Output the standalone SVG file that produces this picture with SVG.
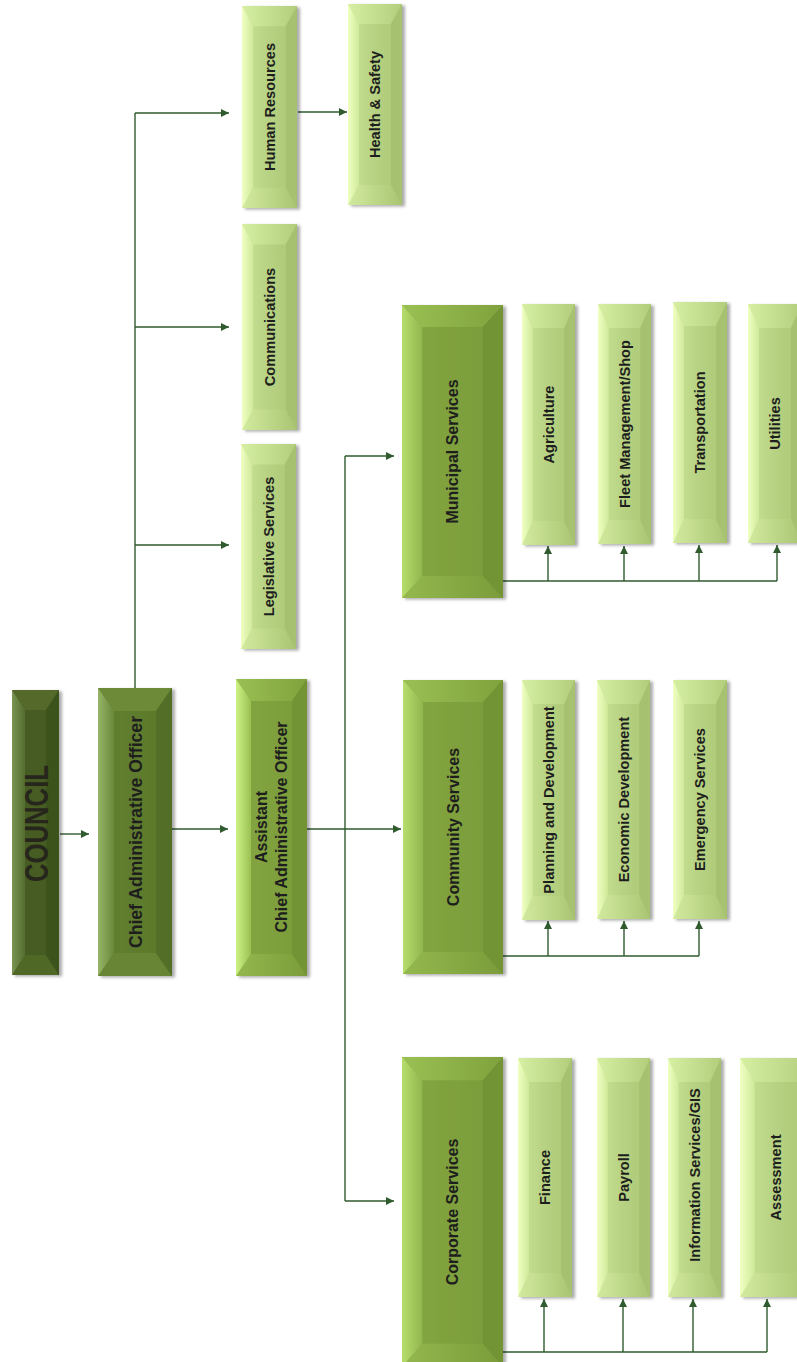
<svg xmlns="http://www.w3.org/2000/svg" xmlns:xlink="http://www.w3.org/1999/xlink" width="797" height="1362" viewBox="0 0 797 1362">
<style>
.t{font-family:"Liberation Sans",Arial,sans-serif;font-weight:bold;fill:#1e1e1e;text-anchor:middle}
.ts{font-size:14.6px}
.td{font-size:16px}
.con{fill:none;stroke:#2f5b2f;stroke-width:1.4}
.arr{marker-end:url(#ah)}
.box{filter:url(#sh)}
</style>
<defs>
<filter id="sh" x="-20%" y="-10%" width="150%" height="120%">
<feDropShadow dx="3" dy="1.5" stdDeviation="1.8" flood-color="#000" flood-opacity="0.33"/>
</filter>
<marker id="ah" viewBox="0 0 10 10" refX="10" refY="5" markerWidth="9" markerHeight="8" markerUnits="userSpaceOnUse" orient="auto">
<path d="M0,0 L10,5 L0,10 z" fill="#2f5b2f"/>
</marker>
<linearGradient id="sFace" x1="0" y1="0" x2="1" y2="0"><stop offset="0" stop-color="#cbe597"/><stop offset="0.45" stop-color="#b7d383"/><stop offset="1" stop-color="#abc775"/></linearGradient>
<linearGradient id="sLeft" x1="0" y1="0" x2="1" y2="0"><stop offset="0" stop-color="#f0ffc2"/><stop offset="1" stop-color="#cfe99a"/></linearGradient>
<linearGradient id="sTop" x1="0" y1="0" x2="1" y2="0"><stop offset="0" stop-color="#d6efa3"/><stop offset="1" stop-color="#b2ce7c"/></linearGradient>
<linearGradient id="sBot" x1="0" y1="0" x2="1" y2="0"><stop offset="0" stop-color="#d2ea9f"/><stop offset="1" stop-color="#a9c572"/></linearGradient>
<symbol id="bxS" viewBox="0 0 54 240" preserveAspectRatio="none">
<rect x="0" y="0" width="54" height="240" fill="url(#sFace)"/>
<polygon points="0,0 54,0 43,24 11,24" fill="url(#sTop)"/>
<polygon points="0,240 11,216 43,216 54,240" fill="url(#sBot)"/>
<polygon points="0,0 11,24 11,216 0,240" fill="url(#sLeft)"/>
<polygon points="54,0 54,240 43,216 43,24" fill="#a6c270"/>
</symbol>
<linearGradient id="dFace" x1="0" y1="0" x2="1" y2="0"><stop offset="0" stop-color="#85a742"/><stop offset="1" stop-color="#799a38"/></linearGradient>
<linearGradient id="dLeft" x1="0" y1="0" x2="1" y2="0"><stop offset="0" stop-color="#b6dd6c"/><stop offset="1" stop-color="#91b74e"/></linearGradient>
<linearGradient id="dTop" x1="0" y1="0" x2="1" y2="0"><stop offset="0" stop-color="#9ac054"/><stop offset="1" stop-color="#80a23d"/></linearGradient>
<linearGradient id="dBot" x1="0" y1="0" x2="1" y2="0"><stop offset="0" stop-color="#94b84f"/><stop offset="1" stop-color="#7b9c39"/></linearGradient>
<symbol id="bxD" viewBox="0 0 100 294" preserveAspectRatio="none">
<rect x="0" y="0" width="100" height="294" fill="url(#dFace)"/>
<polygon points="0,0 100,0 80,22 20,22" fill="url(#dTop)"/>
<polygon points="0,294 20,272 80,272 100,294" fill="url(#dBot)"/>
<polygon points="0,0 20,22 20,272 0,294" fill="url(#dLeft)"/>
<polygon points="100,0 100,294 80,272 80,22" fill="#739436"/>
</symbol>
<linearGradient id="aLeft" x1="0" y1="0" x2="1" y2="0"><stop offset="0" stop-color="#cdf283"/><stop offset="1" stop-color="#9ac054"/></linearGradient>
<symbol id="bxA" viewBox="0 0 71 297" preserveAspectRatio="none">
<rect x="0" y="0" width="71" height="297" fill="url(#dFace)"/>
<polygon points="0,0 71,0 56,22 15,22" fill="url(#dTop)"/>
<polygon points="0,297 15,275 56,275 71,297" fill="url(#dBot)"/>
<polygon points="0,0 15,22 15,275 0,297" fill="url(#aLeft)"/>
<polygon points="71,0 71,297 56,275 56,22" fill="#739436"/>
</symbol>
<linearGradient id="cFace" x1="0" y1="0" x2="1" y2="0"><stop offset="0" stop-color="#63812f"/><stop offset="1" stop-color="#5a772b"/></linearGradient>
<linearGradient id="cLeft" x1="0" y1="0" x2="1" y2="0"><stop offset="0" stop-color="#97b567"/><stop offset="1" stop-color="#6a883a"/></linearGradient>
<symbol id="bxC" viewBox="0 0 74 288" preserveAspectRatio="none">
<rect x="0" y="0" width="74" height="288" fill="url(#cFace)"/>
<polygon points="0,0 74,0 58,23 16,23" fill="#6c8a38"/>
<polygon points="0,288 16,265 58,265 74,288" fill="#678434"/>
<polygon points="0,0 16,23 16,265 0,288" fill="url(#cLeft)"/>
<polygon points="74,0 74,288 58,265 58,23" fill="#536e27"/>
</symbol>
<linearGradient id="kLeft" x1="0" y1="0" x2="1" y2="0"><stop offset="0" stop-color="#7a9453"/><stop offset="1" stop-color="#546d2f"/></linearGradient>
<symbol id="bxK" viewBox="0 0 47 285" preserveAspectRatio="none">
<rect x="0" y="0" width="47" height="285" fill="#465c22"/>
<polygon points="0,0 47,0 34,20 13,20" fill="#546b2c"/>
<polygon points="0,285 13,265 34,265 47,285" fill="#506728"/>
<polygon points="0,0 13,20 13,265 0,285" fill="url(#kLeft)"/>
<polygon points="47,0 47,285 34,265 34,20" fill="#3d521d"/>
</symbol>
</defs>
<rect width="797" height="1362" fill="#ffffff"/>

<g id="connectors">
<path class="con arr" d="M60,834 H89"/>
<path class="con arr" d="M172,829 H228"/>
<path class="con" d="M135,688 V113"/>
<path class="con arr" d="M135,113 H229"/>
<path class="con arr" d="M135,327 H229"/>
<path class="con arr" d="M135,545 H229"/>
<path class="con arr" d="M298,112 H347"/>
<path class="con" d="M307,829 H345"/>
<path class="con" d="M345,456 V1201"/>
<path class="con arr" d="M345,456 H394"/>
<path class="con arr" d="M345,829 H401"/>
<path class="con arr" d="M345,1201 H394"/>
<path class="con" d="M503,581 H777"/>
<path class="con arr" d="M548,581 V546"/>
<path class="con arr" d="M624,581 V546"/>
<path class="con arr" d="M699,581 V545"/>
<path class="con arr" d="M777,581 V545"/>
<path class="con" d="M503,956 H699"/>
<path class="con arr" d="M548,956 V921"/>
<path class="con arr" d="M624,956 V921"/>
<path class="con arr" d="M699,956 V921"/>
<path class="con" d="M503,1352 H767"/>
<path class="con arr" d="M544,1352 V1299"/>
<path class="con arr" d="M623,1352 V1299"/>
<path class="con arr" d="M693,1352 V1299"/>
<path class="con arr" d="M767,1352 V1299"/>
</g>

<g id="council"><use class="box" href="#bxK" x="12" y="690" width="47" height="285"/>
<text class="t" style="font-size:33px;fill:#26261c" textLength="117" lengthAdjust="spacingAndGlyphs" transform="translate(35.5,823.5) rotate(-90)" y="12.5">COUNCIL</text></g>

<g id="cao"><use class="box" href="#bxC" x="98" y="688" width="74" height="288"/>
<text class="t" style="font-size:18px" textLength="232" lengthAdjust="spacingAndGlyphs" transform="translate(135,832) rotate(-90)" y="6.5">Chief Administrative Officer</text></g>

<g id="acao"><use class="box" href="#bxA" x="236" y="679" width="71" height="297"/>
<text class="t td" transform="translate(271.5,827) rotate(-90)"><tspan x="0" y="-4.5">Assistant</tspan><tspan x="0" y="15">Chief Administrative Officer</tspan></text></g>

<g id="hr"><use class="box" href="#bxS" x="242" y="6" width="55" height="202"/>
<text class="t ts" transform="translate(269.5,107) rotate(-90)" y="5.2">Human Resources</text></g>
<g id="hs"><use class="box" href="#bxS" x="348" y="4" width="54" height="201"/>
<text class="t ts" transform="translate(375,104.5) rotate(-90)" y="5.2">Health &amp; Safety</text></g>
<g id="comm"><use class="box" href="#bxS" x="242" y="224" width="55" height="206"/>
<text class="t ts" transform="translate(269.5,327) rotate(-90)" y="5.2">Communications</text></g>
<g id="legis"><use class="box" href="#bxS" x="241" y="444" width="55" height="205"/>
<text class="t ts" transform="translate(268.5,546.5) rotate(-90)" y="5.2">Legislative Services</text></g>

<g id="municipal"><use class="box" href="#bxD" x="402" y="305" width="101" height="293"/>
<text class="t td" transform="translate(452.5,451.5) rotate(-90)" y="5.7">Municipal Services</text></g>
<g id="agri"><use class="box" href="#bxS" x="522" y="304" width="53" height="241"/>
<text class="t ts" transform="translate(548.5,424.5) rotate(-90)" y="5.2">Agriculture</text></g>
<g id="fleet"><use class="box" href="#bxS" x="598" y="304" width="53" height="240"/>
<text class="t ts" transform="translate(624.5,424) rotate(-90)" y="5.2">Fleet Management/Shop</text></g>
<g id="trans"><use class="box" href="#bxS" x="673" y="302" width="54" height="241"/>
<text class="t ts" transform="translate(700,422.5) rotate(-90)" y="5.2">Transportation</text></g>
<g id="util"><use class="box" href="#bxS" x="748" y="304" width="54" height="239"/>
<text class="t ts" transform="translate(775,423.5) rotate(-90)" y="5.2">Utilities</text></g>

<g id="community"><use class="box" href="#bxD" x="403" y="680" width="100" height="294"/>
<text class="t td" transform="translate(453,827) rotate(-90)" y="5.7">Community Services</text></g>
<g id="planning"><use class="box" href="#bxS" x="522" y="680" width="53" height="240"/>
<text class="t ts" transform="translate(548.5,800) rotate(-90)" y="5.2">Planning and Development</text></g>
<g id="econ"><use class="box" href="#bxS" x="597" y="680" width="53" height="239"/>
<text class="t ts" transform="translate(623.5,799.5) rotate(-90)" y="5.2">Economic Development</text></g>
<g id="emerg"><use class="box" href="#bxS" x="673" y="680" width="54" height="239"/>
<text class="t ts" transform="translate(700,799.5) rotate(-90)" y="5.2">Emergency Services</text></g>

<g id="corporate"><use class="box" href="#bxD" x="402" y="1057" width="101" height="310"/>
<text class="t td" transform="translate(452.5,1212) rotate(-90)" y="5.7">Corporate Services</text></g>
<g id="finance"><use class="box" href="#bxS" x="518" y="1058" width="54" height="239"/>
<text class="t ts" transform="translate(545,1177.5) rotate(-90)" y="5.2">Finance</text></g>
<g id="payroll"><use class="box" href="#bxS" x="597" y="1058" width="53" height="239"/>
<text class="t ts" transform="translate(623.5,1177.5) rotate(-90)" y="5.2">Payroll</text></g>
<g id="infogis"><use class="box" href="#bxS" x="668" y="1058" width="53" height="239"/>
<text class="t ts" transform="translate(694.5,1175) rotate(-90)" y="5.2">Information Services/GIS</text></g>
<g id="assess"><use class="box" href="#bxS" x="740" y="1058" width="72" height="239"/>
<text class="t ts" transform="translate(776,1177.5) rotate(-90)" y="5.2">Assessment</text></g>
</svg>
